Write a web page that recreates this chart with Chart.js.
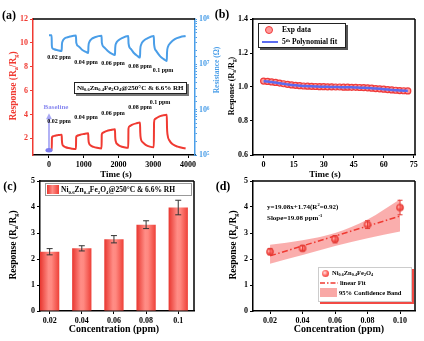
<!DOCTYPE html>
<html>
<head>
<meta charset="utf-8">
<script src="https://cdn.jsdelivr.net/npm/chart.js@4"></script>
<style>
  body { margin: 0; background: #fff; }
  #wrap { position: relative; width: 424px; height: 341px; overflow: hidden;
          font-family: "Liberation Serif", "Times New Roman", serif; font-weight: bold; }
  canvas { position: absolute; }
  .t { position: absolute; white-space: nowrap; line-height: 1; color: #000; font-size: 7px; }
  .c { transform: translate(-50%, -50%); }
  .m { transform: translateY(-50%); }
  .rot { transform: translate(-50%, -50%) rotate(-90deg); }
  sub { font-size: 0.65em; vertical-align: -0.3em; line-height: 0; }
  sup { font-size: 0.65em; vertical-align: 0.5em; line-height: 0; }
  .box { position: absolute; border: 1px solid #222; background: #fff; box-sizing: border-box; }
</style>
</head>
<body>
<div id="wrap">
  <canvas id="cA" width="230" height="180" style="left:0;top:0"></canvas>
  <canvas id="cB" width="212" height="180" style="left:212px;top:0"></canvas>
  <canvas id="cC" width="212" height="171" style="left:0;top:170px"></canvas>
  <canvas id="cD" width="212" height="171" style="left:212px;top:170px"></canvas>

  <!-- panel letters -->
  <div class="t c" style="left:9px;top:15px;font-size:12px">(a)</div>
  <div class="t c" style="left:222px;top:14px;font-size:12px">(b)</div>
  <div class="t c" style="left:10px;top:186px;font-size:12px">(c)</div>
  <div class="t c" style="left:223px;top:186px;font-size:12px">(d)</div>

  <!-- axis titles -->
  <div class="t rot" style="left:14px;top:86px;font-size:9.5px;color:#f03a32">Response (R<sub>a</sub>/R<sub>g</sub>)</div>
  <div class="t rot" style="left:217px;top:70px;font-size:7.5px;color:#4a9ee8">Resistance (Ω)</div>
  <div class="t c" style="left:116px;top:174px;font-size:9px">Time (s)</div>
  <div class="t rot" style="left:232px;top:86px;font-size:8px">Response (R<sub>a</sub>/R<sub>g</sub>)</div>
  <div class="t c" style="left:325px;top:174px;font-size:9px">Time (s)</div>
  <div class="t rot" style="left:14px;top:245px;font-size:9.5px">Response (R<sub>a</sub>/R<sub>g</sub>)</div>
  <div class="t c" style="left:114px;top:329px;font-size:10px">Concentration (ppm)</div>
  <div class="t rot" style="left:234px;top:245px;font-size:9.5px">Response (R<sub>a</sub>/R<sub>g</sub>)</div>
  <div class="t c" style="left:339px;top:329px;font-size:10px">Concentration (ppm)</div>

  <!-- panel (a) annotations -->
  <div class="t c" style="left:59px;top:57px;font-size:6px">0.02 ppm</div>
  <div class="t c" style="left:86px;top:62px;font-size:6px">0.04 ppm</div>
  <div class="t c" style="left:113px;top:63px;font-size:6px">0.06 ppm</div>
  <div class="t c" style="left:140px;top:66px;font-size:6px">0.08 ppm</div>
  <div class="t c" style="left:163px;top:70px;font-size:6px">0.1 ppm</div>
  <div class="t c" style="left:59px;top:121px;font-size:6px">0.02 ppm</div>
  <div class="t c" style="left:86px;top:117px;font-size:6px">0.04 ppm</div>
  <div class="t c" style="left:113px;top:113px;font-size:6px">0.06 ppm</div>
  <div class="t c" style="left:140px;top:107px;font-size:6px">0.08 ppm</div>
  <div class="t c" style="left:160px;top:102px;font-size:6px">0.1 ppm</div>
  <div class="t c" style="left:56px;top:107px;font-size:7px;color:#8c8cf0">Baseline</div>
  <div class="box" style="left:74px;top:82px;width:113px;height:12px;box-shadow:2px 2px 0 #777"></div>
  <div class="t m" style="left:77px;top:88px;font-size:7px">Ni<sub>0.6</sub>Zn<sub>0.4</sub>Fe<sub>2</sub>O<sub>4</sub>@250°C &amp; 6.6% RH</div>

  <!-- panel (b) legend -->
  <div class="box" style="left:258px;top:23px;width:88px;height:25px;box-shadow:2px 2px 0 #555"></div>
  <div style="position:absolute;left:265px;top:26px;width:6px;height:6px;border:1.2px solid #ef3b3b;border-radius:50%;background:#ff9a9a"></div>
  <div class="t m" style="left:282px;top:30px;font-size:7.5px">Exp data</div>
  <svg style="position:absolute;left:262px;top:40px" width="16" height="4"><line x1="0" y1="2" x2="16" y2="2" stroke="#5b6cf0" stroke-width="2"/></svg>
  <div class="t m" style="left:282px;top:42px;font-size:7.5px">5<sup>th</sup> Polynomial fit</div>

  <!-- panel (c) legend -->
  <div class="box" style="left:45px;top:183px;width:147px;height:13px;border-color:#999"></div>
  <div style="position:absolute;left:47px;top:185px;width:12px;height:9px;background:linear-gradient(90deg,#e8362f,#ff8d86 45%,#ee4038)"></div>
  <div class="t m" style="left:61px;top:189.5px;font-size:7.5px">Ni<sub>0.6</sub>Zn<sub>0.4</sub>Fe<sub>2</sub>O<sub>4</sub>@250°C &amp; 6.6% RH</div>

  <!-- panel (d) annotation and legend -->
  <div class="t m" style="left:267px;top:207px;font-size:7px">y=19.08x+1.74(R<sup>2</sup>=0.92)</div>
  <div class="t m" style="left:267px;top:218px;font-size:7px">Slope=19.08 ppm<sup>-1</sup></div>
  <div class="box" style="left:318px;top:267px;width:94px;height:35px;border-color:#ccc;box-shadow:2px 2px 0 #f24a44"></div>
  <div style="position:absolute;left:322px;top:269.5px;width:7px;height:7px;border-radius:50%;background:radial-gradient(circle at 40% 40%,#ffe3e3 0,#ff6b66 45%,#e0302a 100%)"></div>
  <div class="t m" style="left:332px;top:273px;font-size:6.5px">Ni<sub>0.6</sub>Zn<sub>0.4</sub>Fe<sub>2</sub>O<sub>4</sub></div>
  <svg style="position:absolute;left:320px;top:281px" width="18" height="4"><line x1="0" y1="2" x2="18" y2="2" stroke="#f03a32" stroke-width="1.5" stroke-dasharray="5 2 1.5 2"/></svg>
  <div class="t m" style="left:340px;top:283px;font-size:6.5px">linear Fit</div>
  <div style="position:absolute;left:320px;top:288px;width:17px;height:9px;background:#f9a8a6"></div>
  <div class="t m" style="left:339px;top:293px;font-size:6.5px">95% Confidence Band</div>
</div>

<script>
(() => {
  'use strict';

  // ---- data ----
  // (a) dynamic response (Ra/Rg) and resistance vs time
  const respTime = [0, 40, 78, 85, 100, 150, 200, 250, 300, 365, 372, 385, 420, 480, 560, 660, 775,
    782, 800, 900, 1000, 1128, 1135, 1150, 1200, 1280, 1380, 1512,
    1518, 1540, 1650, 1780, 1898, 1905, 1920, 1970, 2050, 2160, 2280,
    2286, 2310, 2400, 2520, 2618, 2625, 2640, 2700, 2780, 2900, 3015,
    3022, 3045, 3150, 3280, 3388, 3395, 3410, 3470, 3560, 3700, 3930];
  const respVal = [1.0, 1.0, 1.0, 2.05, 2.15, 2.2, 2.24, 2.26, 2.28, 2.3, 1.8, 1.5, 1.35, 1.25, 1.18, 1.13, 1.1,
    2.1, 2.2, 2.3, 2.36, 2.42, 1.9, 1.6, 1.4, 1.28, 1.2, 1.15,
    2.3, 2.45, 2.6, 2.7, 2.76, 2.1, 1.75, 1.5, 1.35, 1.25, 1.2,
    2.8, 3.0, 3.15, 3.26, 3.32, 2.5, 2.0, 1.65, 1.45, 1.3, 1.25,
    3.3, 3.6, 3.8, 3.92, 3.98, 2.9, 2.3, 1.8, 1.5, 1.3, 1.15];
  const resTime = [0, 75, 82, 95, 150, 250, 365, 372, 390, 430, 500, 600, 775,
    785, 850, 950, 1050, 1128, 1135, 1160, 1220, 1320, 1512,
    1520, 1580, 1700, 1800, 1898, 1905, 1930, 2000, 2100, 2280,
    2288, 2350, 2450, 2550, 2618, 2625, 2650, 2720, 2830, 3015,
    3023, 3080, 3200, 3300, 3388, 3395, 3420, 3500, 3620, 3780, 3930];
  const resVal = [4.4e7, 4.4e7, 2.6e7, 2.3e7, 2.15e7, 2.05e7, 1.97e7, 2.7e7, 3.2e7, 3.6e7, 3.9e7, 4.1e7, 4.3e7,
    3.0e7, 2.5e7, 2.1e7, 1.9e7, 1.78e7, 2.5e7, 3.1e7, 3.6e7, 3.95e7, 4.25e7,
    3.0e7, 2.4e7, 1.95e7, 1.72e7, 1.6e7, 2.3e7, 2.9e7, 3.4e7, 3.8e7, 4.2e7,
    2.9e7, 2.2e7, 1.75e7, 1.52e7, 1.41e7, 2.1e7, 2.7e7, 3.3e7, 3.75e7, 4.2e7,
    2.8e7, 2.0e7, 1.5e7, 1.3e7, 1.18e7, 1.8e7, 2.4e7, 3.0e7, 3.6e7, 4.0e7, 4.2e7];
  const timeTicks = [0, 1000, 2000, 3000, 4000];
  const respTicks = [2, 4, 6, 8, 10, 12];
  const baselineArrow = { t: 0, from: 1.0, to: 4.1 };

  // (b) stability
  const stabTime = [0, 2, 4, 6, 8, 10, 12, 14, 16, 18, 20, 22, 24, 26, 28, 30, 32, 34, 36,
    38, 40, 42, 44, 46, 48, 50, 52, 54, 56, 58, 60, 62, 64, 66, 68, 70, 72];
  const stabExp = [1.035, 1.033, 1.030, 1.027, 1.023, 1.019, 1.015, 1.012, 1.010, 1.008, 1.006, 1.005,
    1.004, 1.003, 1.002, 1.002, 1.001, 1.001, 1.000, 1.000, 0.999, 0.999, 0.998, 0.998, 0.997,
    0.996, 0.995, 0.993, 0.991, 0.989, 0.987, 0.985, 0.983, 0.981, 0.979, 0.978, 0.977];
  const stabFit = [1.034, 1.032, 1.029, 1.026, 1.022, 1.019, 1.015, 1.012, 1.010, 1.008, 1.006, 1.005,
    1.004, 1.003, 1.002, 1.001, 1.001, 1.000, 1.000, 0.999, 0.999, 0.998, 0.998, 0.997, 0.996,
    0.995, 0.994, 0.993, 0.991, 0.989, 0.987, 0.985, 0.983, 0.981, 0.980, 0.978, 0.977];
  const stabTicksX = [0, 15, 30, 45, 60, 75];

  // (c), (d) response vs concentration
  const concValues = [0.02, 0.04, 0.06, 0.08, 0.10];
  const concLabelsC = ['0.02', '0.04', '0.06', '0.08', '0.1'];
  const concLabelsD = ['0.02', '0.04', '0.06', '0.08', '0.10'];
  const respMean = [2.28, 2.41, 2.76, 3.32, 3.98];
  const respErr = [0.12, 0.10, 0.14, 0.15, 0.28];
  const fitX = [0.02, 0.10];
  const fitY = [2.12, 3.65];
  const bandX = [0.02, 0.04, 0.06, 0.08, 0.10];
  const bandUpper = [2.55, 2.72, 3.00, 3.52, 4.30];
  const bandLower = [1.82, 2.15, 2.50, 2.80, 3.06];

  // ---- styling helpers ----
  const RED = '#f03a32';
  const BLUE = '#4a9ee8';
  const FONT = '"Liberation Serif", "Times New Roman", serif';
  const tickFont = { family: FONT, weight: 'bold', size: 8 };

  function axis(color, extra) {
    return Object.assign({
      grid: { display: true, drawOnChartArea: false, drawTicks: true, tickLength: 3, color, lineWidth: 1 },
      border: { display: true, color, width: 1.5 },
      ticks: { color, font: tickFont, padding: 2, autoSkip: false, maxRotation: 0 },
    }, extra);
  }
  const fixTicks = list => s => { s.ticks = list.map(v => ({ value: v })); };
  const fixWidth = w => s => { s.width = w; };
  const fixHeight = h => s => { s.height = h; };

  // black top (and right) frame lines
  const framePlugin = {
    id: 'frame',
    afterDatasetsDraw(chart, args, opts) {
      const { ctx, chartArea: a } = chart;
      ctx.save();
      ctx.strokeStyle = '#000';
      ctx.lineWidth = 1.5;
      ctx.beginPath();
      ctx.moveTo(a.left, a.top); ctx.lineTo(a.right, a.top);
      if (!opts.skipRight) { ctx.moveTo(a.right, a.top); ctx.lineTo(a.right, a.bottom); }
      ctx.stroke();
      ctx.restore();
    },
  };

  const errorBarPlugin = {
    id: 'errorBars',
    afterDatasetsDraw(chart, args, opts) {
      const { ctx } = chart;
      const meta = chart.getDatasetMeta(opts.datasetIndex);
      const ys = chart.scales.y;
      ctx.save();
      ctx.strokeStyle = opts.color;
      ctx.lineWidth = 1;
      opts.means.forEach((m, i) => {
        const x = meta.data[i].x;
        const top = ys.getPixelForValue(m + opts.errors[i]);
        const bot = ys.getPixelForValue(m - opts.errors[i]);
        ctx.beginPath();
        ctx.moveTo(x, top); ctx.lineTo(x, bot);
        ctx.moveTo(x - opts.cap, top); ctx.lineTo(x + opts.cap, top);
        ctx.moveTo(x - opts.cap, bot); ctx.lineTo(x + opts.cap, bot);
        ctx.stroke();
      });
      ctx.restore();
    },
  };

  const baselinePlugin = {
    id: 'baseline',
    afterDatasetsDraw(chart) {
      const { ctx, scales: { x, y } } = chart;
      const px = x.getPixelForValue(baselineArrow.t);
      const y0 = y.getPixelForValue(baselineArrow.from);
      const y1 = y.getPixelForValue(baselineArrow.to);
      ctx.save();
      ctx.strokeStyle = 'rgba(140,140,240,0.75)';
      ctx.fillStyle = 'rgba(140,140,240,0.75)';
      ctx.lineWidth = 1.8;
      ctx.beginPath(); ctx.moveTo(px, y0); ctx.lineTo(px, y1 + 5); ctx.stroke();
      ctx.beginPath(); ctx.moveTo(px, y1); ctx.lineTo(px - 3, y1 + 6); ctx.lineTo(px + 3, y1 + 6); ctx.closePath(); ctx.fill();
      ctx.fillStyle = '#7c7cee';
      ctx.beginPath(); ctx.ellipse(px, y0, 3.5, 2.2, 0, 0, Math.PI * 2); ctx.fill();
      ctx.restore();
    },
  };

  function makeSphere(r) {
    const c = document.createElement('canvas');
    const s = Math.ceil(r * 2 + 2);
    c.width = c.height = s;
    const g = c.getContext('2d');
    const cx = s / 2;
    const grad = g.createRadialGradient(cx - r * 0.25, cx - r * 0.25, 0, cx, cx, r);
    grad.addColorStop(0, '#ffe6e6');
    grad.addColorStop(0.45, '#ff6b66');
    grad.addColorStop(1, '#e0302a');
    g.fillStyle = grad;
    g.beginPath(); g.arc(cx, cx, r, 0, Math.PI * 2); g.fill();
    return c;
  }

  const base = {
    responsive: false,
    animation: false,
    devicePixelRatio: 1,
    events: [],
  };
  const supDigits = { 5: '⁵', 6: '⁶', 7: '⁷', 8: '⁸' };

  // ---- (a) ----
  new Chart(document.getElementById('cA'), {
    type: 'line',
    data: {
      datasets: [
        {
          data: respTime.map((t, i) => ({ x: t, y: respVal[i] })),
          yAxisID: 'y', borderColor: RED, borderWidth: 2, pointRadius: 0, cubicInterpolationMode: 'monotone',
        },
        {
          data: resTime.map((t, i) => ({ x: t, y: resVal[i] })),
          yAxisID: 'y2', borderColor: BLUE, borderWidth: 2, pointRadius: 0, cubicInterpolationMode: 'monotone',
        },
      ],
    },
    options: {
      ...base,
      layout: { padding: { top: 19, left: 0, right: 0, bottom: 0 } },
      plugins: { legend: { display: false }, tooltip: { enabled: false }, frame: { skipRight: true } },
      scales: {
        x: (() => {
          const o = axis('#000', { type: 'linear', min: -460, max: 4200, afterBuildTicks: fixTicks(timeTicks), afterFit: fixHeight(25) });
          o.ticks.callback = v => String(v);
          return o;
        })(),
        y: axis(RED, { type: 'linear', position: 'left', min: 0.6, max: 12, afterBuildTicks: fixTicks(respTicks), afterFit: fixWidth(33) }),
        y2: (() => {
          const o = axis(BLUE, { type: 'logarithmic', position: 'right', min: 1e5, max: 1e8, afterFit: fixWidth(35) });
          o.grid.tickLength = 2;
          o.ticks.callback = v => {
            const e = Math.log10(v);
            const r = Math.round(e);
            return Math.abs(e - r) < 1e-6 ? '10' + supDigits[r] : '';
          };
          return o;
        })(),
      },
    },
    plugins: [framePlugin, baselinePlugin],
  });

  // ---- (b) ----
  new Chart(document.getElementById('cB'), {
    type: 'line',
    data: {
      datasets: [
        {
          data: stabTime.map((t, i) => ({ x: t, y: stabFit[i] })),
          borderColor: '#5b6cf0', borderWidth: 2.5, pointRadius: 0, cubicInterpolationMode: 'monotone', order: 0,
        },
        {
          data: stabTime.map((t, i) => ({ x: t, y: stabExp[i] })),
          showLine: false, pointRadius: 3, pointBorderWidth: 1.2,
          pointBorderColor: '#ef3b3b', pointBackgroundColor: '#ff9a9a', order: 1,
        },
      ],
    },
    options: {
      ...base,
      layout: { padding: { top: 19, left: 0, right: 9, bottom: 0 } },
      plugins: { legend: { display: false }, tooltip: { enabled: false }, frame: {} },
      scales: {
        x: axis('#000', { type: 'linear', min: -5.3, max: 75.6, afterBuildTicks: fixTicks(stabTicksX), afterFit: fixHeight(25) }),
        y: (() => {
          const o = axis('#000', { type: 'linear', min: 0.6, max: 1.4, afterBuildTicks: fixTicks([0.6, 0.8, 1.0, 1.2, 1.4]), afterFit: fixWidth(41) });
          o.ticks.callback = v => v.toFixed(1);
          return o;
        })(),
      },
    },
    plugins: [framePlugin],
  });

  // ---- (c) ----
  new Chart(document.getElementById('cC'), {
    type: 'bar',
    data: {
      datasets: [{
        data: concValues.map((x, i) => ({ x, y: respMean[i] })),
        barPercentage: 0.6,
        categoryPercentage: 1,
        backgroundColor: c => {
          const chart = c.chart;
          const xs = chart.scales.x;
          if (!chart.chartArea || !xs || c.type !== 'data') return '#f35a52';
          const x = xs.getPixelForValue(concValues[c.dataIndex]);
          const w = Math.abs(xs.getPixelForValue(concValues[1]) - xs.getPixelForValue(concValues[0])) * 0.6;
          const g = chart.ctx.createLinearGradient(x - w / 2, 0, x + w / 2, 0);
          g.addColorStop(0, '#e8362f');
          g.addColorStop(0.45, '#ff8d86');
          g.addColorStop(0.6, '#ff8880');
          g.addColorStop(1, '#ee4038');
          return g;
        },
      }],
    },
    options: {
      ...base,
      layout: { padding: { top: 11, left: 0, right: 18, bottom: 0 } },
      plugins: {
        legend: { display: false }, tooltip: { enabled: false }, frame: {},
        errorBars: { datasetIndex: 0, means: respMean, errors: respErr, color: '#333', cap: 3 },
      },
      scales: {
        x: (() => {
          const o = axis('#000', { type: 'linear', offset: false, min: 0.014, max: 0.1098, afterBuildTicks: fixTicks(concValues), afterFit: fixHeight(30) });
          o.grid.offset = false;
          o.ticks.callback = (v, i) => concLabelsC[i];
          return o;
        })(),
        y: axis('#000', { type: 'linear', min: 0, max: 5, afterBuildTicks: fixTicks([0, 1, 2, 3, 4, 5]), afterFit: fixWidth(40) }),
      },
    },
    plugins: [framePlugin, errorBarPlugin],
  });

  // ---- (d) ----
  new Chart(document.getElementById('cD'), {
    type: 'line',
    data: {
      datasets: [
        {
          data: concValues.map((x, i) => ({ x, y: respMean[i] })),
          showLine: false, pointStyle: makeSphere(3.8), order: 0,
        },
        {
          data: fitX.map((x, i) => ({ x, y: fitY[i] })),
          borderColor: RED, borderWidth: 1.5, borderDash: [6, 2.5, 1.5, 2.5], pointRadius: 0, order: 1,
        },
        {
          data: bandX.map((x, i) => ({ x, y: bandUpper[i] })),
          borderWidth: 0, pointRadius: 0, fill: '+1', backgroundColor: 'rgba(246,120,118,0.6)',
          cubicInterpolationMode: 'monotone', order: 2,
        },
        {
          data: bandX.map((x, i) => ({ x, y: bandLower[i] })),
          borderWidth: 0, pointRadius: 0, fill: false, cubicInterpolationMode: 'monotone', order: 3,
        },
      ],
    },
    options: {
      ...base,
      layout: { padding: { top: 11, left: 0, right: 9, bottom: 0 } },
      plugins: {
        legend: { display: false }, tooltip: { enabled: false }, frame: {},
        errorBars: { datasetIndex: 0, means: respMean, errors: respErr, color: '#e33b35', cap: 2.5 },
      },
      scales: {
        x: (() => {
          const o = axis('#000', { type: 'linear', min: 0.0095, max: 0.1092, afterBuildTicks: fixTicks(concValues), afterFit: fixHeight(30) });
          o.ticks.callback = (v, i) => concLabelsD[i];
          return o;
        })(),
        y: axis('#000', { type: 'linear', min: 0, max: 5, afterBuildTicks: fixTicks([0, 1, 2, 3, 4, 5]), afterFit: fixWidth(41) }),
      },
    },
    plugins: [framePlugin, errorBarPlugin],
  });
})();
</script>
</body>
</html>
